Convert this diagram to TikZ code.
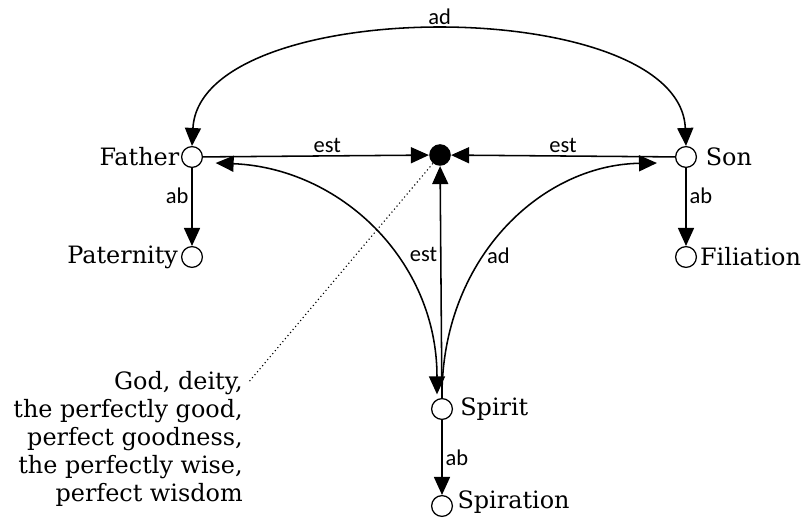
\documentclass[tikz,border=0pt]{standalone}
\usepackage{fontspec}
\setmainfont{DejaVu Serif}
\newfontfamily\relfont{Carlito}
\usetikzlibrary{arrows.meta}

\tikzset{
    vtx/.style={circle, draw, line width=0.9pt, fill=white, minimum size=0.52cm, inner sep=0pt},
    godnode/.style={circle, fill=black, minimum size=0.54cm, inner sep=0pt},
    arr/.style={line width=1.1pt, -{Triangle[length=0.45cm, width=0.4cm]}},
    arrboth/.style={line width=1.1pt, {Triangle[length=0.45cm, width=0.4cm]}-{Triangle[length=0.45cm, width=0.4cm]}},
    rel/.style={font=\relfont\fontsize{16}{18}\selectfont, inner sep=2pt},
    term/.style={font=\fontsize{17}{19.9}\selectfont, inner sep=2pt}
}

\begin{document}
\begin{tikzpicture}
    \useasboundingbox (0,0) rectangle (20.175,-13.2);
    \node[godnode] (god) at (11.0,-3.875) {};
    \node[vtx, label={[term, label distance=-1pt]left:Father}] (father) at (4.8,-3.925) {};
    \node[vtx, label={[term, label distance=4pt]right:Son}] (son) at (17.15,-3.925) {};
    \node[vtx, label={[term]left:Paternity}] (paternity) at (4.8,-6.425) {};
    \node[vtx, label={[term]right:Filiation}] (filiation) at (17.15,-6.425) {};
    \node[vtx, label={[term, label distance=3pt]right:Spirit}] (spirit) at (11.05,-10.225) {};
    \node[vtx, label={[term, label distance=1pt, yshift=3pt]right:Spiration}] (spiration) at (11.05,-12.65) {};
    \node[term, align=right, anchor=east, inner sep=0pt] (attr) at (6.075,-10.975)
        {God, deity,\\the perfectly good,\\perfect goodness,\\the perfectly wise,\\perfect wisdom};
    \coordinate (attrtip) at (6.2,-9.575);

    % est: towards the divine essence
    \draw[arr] (father) -- node[rel, above, pos=0.55] {est} (god);
    \draw[arr] (son) -- node[rel, above] {est} (god);
    \draw[arr] (spirit) -- node[rel, left, pos=0.62] {est} (god);
    \draw[dotted, line width=0.8pt] (god) -- (attrtip);

    % ab: properties
    \draw[arr] (father) -- node[rel, left, pos=0.35] {ab} (paternity);
    \draw[arr] (son) -- node[rel, right, pos=0.35] {ab} (filiation);
    \draw[arr] (spirit) -- node[rel, right] {ab} (spiration);

    % ad: relations between persons
    \draw[arrboth] (father.north) .. controls (5.0,0.17) and (17.0,0.17) .. node[rel, above=2pt] {ad} (son.north);
    \draw[arrboth] ([shift={(-0.125,0.09)}]spirit.north) .. controls (10.925,-6.5) and (8.5,-4.2) .. ([shift={(0.315,-0.15)}]father.east);
    \draw[arr] (spirit.north) .. controls (11.025,-6.5) and (13.5,-4.125) .. node[rel, pos=0.4, right] {ad} ([shift={(-0.45,-0.15)}]son.west);
\end{tikzpicture}
\end{document}
